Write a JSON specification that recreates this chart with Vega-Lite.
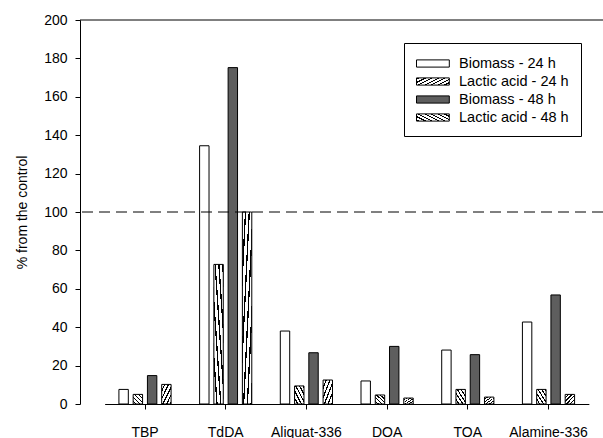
{
  "$schema": "https://vega.github.io/schema/vega-lite/v6.json",
  "width": 523,
  "height": 384,
  "autosize": "none",
  "padding": {"left": 80, "top": 20, "right": 0, "bottom": 34},
  "background": "white",
  "params": [
    {"name": "legendStops", "expr": "[{offset:0,color:'#fff'},{offset:0.065,color:'#fff'},{offset:0.065,color:'#000'},{offset:0.1,color:'#000'},{offset:0.1,color:'#fff'},{offset:0.165,color:'#fff'},{offset:0.165,color:'#000'},{offset:0.2,color:'#000'},{offset:0.2,color:'#fff'},{offset:0.265,color:'#fff'},{offset:0.265,color:'#000'},{offset:0.3,color:'#000'},{offset:0.3,color:'#fff'},{offset:0.365,color:'#fff'},{offset:0.365,color:'#000'},{offset:0.4,color:'#000'},{offset:0.4,color:'#fff'},{offset:0.465,color:'#fff'},{offset:0.465,color:'#000'},{offset:0.5,color:'#000'},{offset:0.5,color:'#fff'},{offset:0.565,color:'#fff'},{offset:0.565,color:'#000'},{offset:0.6,color:'#000'},{offset:0.6,color:'#fff'},{offset:0.665,color:'#fff'},{offset:0.665,color:'#000'},{offset:0.7,color:'#000'},{offset:0.7,color:'#fff'},{offset:0.765,color:'#fff'},{offset:0.765,color:'#000'},{offset:0.8,color:'#000'},{offset:0.8,color:'#fff'},{offset:0.865,color:'#fff'},{offset:0.865,color:'#000'},{offset:0.9,color:'#000'},{offset:0.9,color:'#fff'},{offset:0.965,color:'#fff'},{offset:0.965,color:'#000'},{offset:1,color:'#000'}]"}
  ],
  "config": {
    "font": "Liberation Sans",
    "view": {"stroke": null},
    "axis": {
      "grid": false,
      "domainColor": "black",
      "tickColor": "black",
      "labelColor": "black",
      "titleColor": "black",
      "labelFontSize": 14,
      "titleFontSize": 14,
      "titleFontWeight": "normal",
      "tickSize": 5,
      "labelOverlap": false
    },
    "legend": {
      "symbolStrokeColor": "black",
      "symbolStrokeWidth": 1
    }
  },
  "data": {
    "values": [
      {"extractant": "TBP", "series": "Biomass - 24 h", "value": 7.6},
      {"extractant": "TBP", "series": "Lactic acid - 24 h", "value": 5.0},
      {"extractant": "TBP", "series": "Biomass - 48 h", "value": 14.8},
      {"extractant": "TBP", "series": "Lactic acid - 48 h", "value": 10.2},
      {"extractant": "TdDA", "series": "Biomass - 24 h", "value": 134.5},
      {"extractant": "TdDA", "series": "Lactic acid - 24 h", "value": 72.7},
      {"extractant": "TdDA", "series": "Biomass - 48 h", "value": 175.2},
      {"extractant": "TdDA", "series": "Lactic acid - 48 h", "value": 100},
      {"extractant": "Aliquat-336", "series": "Biomass - 24 h", "value": 38.0},
      {"extractant": "Aliquat-336", "series": "Lactic acid - 24 h", "value": 9.4},
      {"extractant": "Aliquat-336", "series": "Biomass - 48 h", "value": 26.7},
      {"extractant": "Aliquat-336", "series": "Lactic acid - 48 h", "value": 12.5},
      {"extractant": "DOA", "series": "Biomass - 24 h", "value": 12.0},
      {"extractant": "DOA", "series": "Lactic acid - 24 h", "value": 4.7},
      {"extractant": "DOA", "series": "Biomass - 48 h", "value": 30.0},
      {"extractant": "DOA", "series": "Lactic acid - 48 h", "value": 3.1},
      {"extractant": "TOA", "series": "Biomass - 24 h", "value": 28.1},
      {"extractant": "TOA", "series": "Lactic acid - 24 h", "value": 7.6},
      {"extractant": "TOA", "series": "Biomass - 48 h", "value": 25.7},
      {"extractant": "TOA", "series": "Lactic acid - 48 h", "value": 3.6},
      {"extractant": "Alamine-336", "series": "Biomass - 24 h", "value": 42.7},
      {"extractant": "Alamine-336", "series": "Lactic acid - 24 h", "value": 7.6},
      {"extractant": "Alamine-336", "series": "Biomass - 48 h", "value": 56.8},
      {"extractant": "Alamine-336", "series": "Lactic acid - 48 h", "value": 5.0}
    ]
  },
  "layer": [
    {
      "mark": {"type": "bar", "stroke": "black", "strokeWidth": 1},
      "encoding": {
        "x": {
          "field": "extractant",
          "type": "nominal",
          "sort": ["TBP", "TdDA", "Aliquat-336", "DOA", "TOA", "Alamine-336"],
          "scale": {"range": [24.65, 508.85], "paddingInner": 0, "paddingOuter": 0},
          "axis": {"title": null, "labelAngle": 0, "labelPadding": 16}
        },
        "xOffset": {
          "field": "series",
          "sort": ["Biomass - 24 h", "Lactic acid - 24 h", "Biomass - 48 h", "Lactic acid - 48 h"],
          "scale": {"paddingInner": 0.34, "paddingOuter": 1.47}
        },
        "y": {
          "field": "value",
          "type": "quantitative",
          "scale": {"domain": [0, 200], "nice": false},
          "axis": {"title": "% from the control", "values": [0, 20, 40, 60, 80, 100, 120, 140, 160, 180, 200], "labelPadding": 8, "titlePadding": 14, "labelOverlap": false}
        },
        "stroke": {
          "field": "series",
          "type": "nominal",
          "scale": {
            "domain": ["Biomass - 24 h", "Lactic acid - 24 h", "Biomass - 48 h", "Lactic acid - 48 h"],
            "range": ["#000000", "#000000", "#000000", "#000000"]
          },
          "legend": {
            "title": null,
            "orient": "none",
            "legendX": 324,
            "legendY": 23,
            "strokeColor": "black",
            "fillColor": "white",
            "padding": 12,
            "symbolType": "M-1,-0.45H3.1V0.45H-1Z",
            "symbolSize": 256,
            "labelOffset": 26,
            "labelFontSize": 14.5,
            "labelColor": "black",
            "rowPadding": 3
          }
        },
        "fill": {
          "condition": [
            {"test": "datum.series === 'Lactic acid - 24 h'", "value": {"gradient": "linear", "x1": 0, "y1": 1, "x2": 1, "y2": 0, "stops": [
                {"offset": 0, "color": "#ffffff"}, {"offset": 0.13, "color": "#ffffff"}, {"offset": 0.13, "color": "#000000"}, {"offset": 0.2, "color": "#000000"},
                {"offset": 0.2, "color": "#ffffff"}, {"offset": 0.33, "color": "#ffffff"}, {"offset": 0.33, "color": "#000000"}, {"offset": 0.4, "color": "#000000"},
                {"offset": 0.4, "color": "#ffffff"}, {"offset": 0.53, "color": "#ffffff"}, {"offset": 0.53, "color": "#000000"}, {"offset": 0.6, "color": "#000000"},
                {"offset": 0.6, "color": "#ffffff"}, {"offset": 0.73, "color": "#ffffff"}, {"offset": 0.73, "color": "#000000"}, {"offset": 0.8, "color": "#000000"},
                {"offset": 0.8, "color": "#ffffff"}, {"offset": 0.93, "color": "#ffffff"}, {"offset": 0.93, "color": "#000000"}, {"offset": 1, "color": "#000000"}
              ]}},
            {"test": "datum.series === 'Lactic acid - 48 h'", "value": {"gradient": "linear", "x1": 0, "y1": 0, "x2": 1, "y2": 1, "stops": [
                {"offset": 0, "color": "#ffffff"}, {"offset": 0.13, "color": "#ffffff"}, {"offset": 0.13, "color": "#000000"}, {"offset": 0.2, "color": "#000000"},
                {"offset": 0.2, "color": "#ffffff"}, {"offset": 0.33, "color": "#ffffff"}, {"offset": 0.33, "color": "#000000"}, {"offset": 0.4, "color": "#000000"},
                {"offset": 0.4, "color": "#ffffff"}, {"offset": 0.53, "color": "#ffffff"}, {"offset": 0.53, "color": "#000000"}, {"offset": 0.6, "color": "#000000"},
                {"offset": 0.6, "color": "#ffffff"}, {"offset": 0.73, "color": "#ffffff"}, {"offset": 0.73, "color": "#000000"}, {"offset": 0.8, "color": "#000000"},
                {"offset": 0.8, "color": "#ffffff"}, {"offset": 0.93, "color": "#ffffff"}, {"offset": 0.93, "color": "#000000"}, {"offset": 1, "color": "#000000"}
              ]}}
          ],
          "field": "series",
          "type": "nominal",
          "scale": {
            "domain": ["Biomass - 24 h", "Lactic acid - 24 h", "Biomass - 48 h", "Lactic acid - 48 h"],
            "range": [
              "#ffffff",
              {"expr": "{gradient:'linear',x1:0,y1:1,x2:1,y2:0,stops:legendStops}"},
              "#5e5e5e",
              {"expr": "{gradient:'linear',x1:0,y1:0,x2:1,y2:1,stops:legendStops}"}
            ]
          },
          "legend": {
            "title": null,
            "orient": "none",
            "legendX": 324,
            "legendY": 23,
            "strokeColor": "black",
            "fillColor": "white",
            "padding": 12,
            "symbolType": "M-1,-0.45H3.1V0.45H-1Z",
            "symbolSize": 256,
            "labelOffset": 26,
            "labelFontSize": 14.5,
            "labelColor": "black",
            "rowPadding": 3
          }
        }
      }
    },
    {
      "data": {"values": [{}]},
      "mark": {"type": "rule", "color": "black", "strokeWidth": 1, "strokeDash": [11, 6]},
      "encoding": {"y": {"datum": 100, "type": "quantitative", "axis": {"title": "% from the control", "values": [0, 20, 40, 60, 80, 100, 120, 140, 160, 180, 200], "labelPadding": 8, "titlePadding": 14, "labelOverlap": false}}}
    },
    {
      "data": {"values": [{}]},
      "mark": {"type": "rule", "color": "black", "strokeWidth": 1},
      "encoding": {"y": {"datum": 200, "type": "quantitative", "axis": {"title": "% from the control", "values": [0, 20, 40, 60, 80, 100, 120, 140, 160, 180, 200], "labelPadding": 8, "titlePadding": 14, "labelOverlap": false}}}
    }
  ]
}
